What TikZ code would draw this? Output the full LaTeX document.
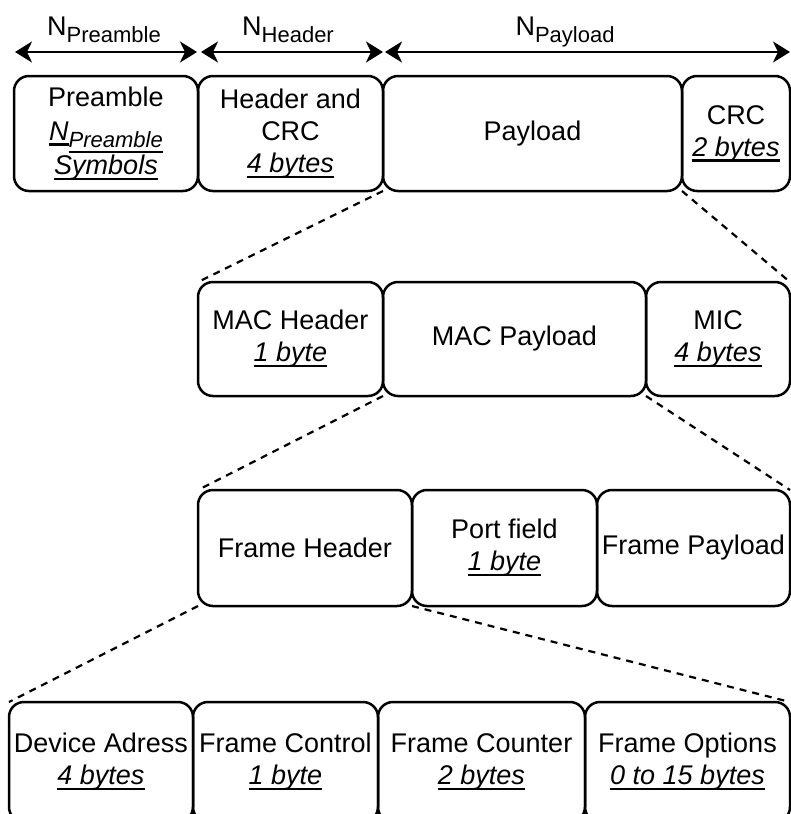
\documentclass[tikz,border=0pt]{standalone}
\usepackage{fontspec}
\setmainfont{Liberation Sans}
\usetikzlibrary{arrows.meta}
\newcommand\uln[1]{\setbox0\hbox{#1}\rlap{\rule[-5.5pt]{\wd0}{2.4pt}}\box0}
\newcommand\subtxt[1]{\raisebox{-7.5pt}{\fontsize{22}{26}\selectfont #1}}
\begin{document}
\begin{tikzpicture}[x=1pt,y=-1pt,
  fld/.style={draw, line width=2.5pt, rounded corners=15pt, align=center, inner sep=0pt, outer sep=0pt, font=\fontsize{27}{32}\selectfont},
  zoomline/.style={line width=2.2pt, dash pattern=on 7pt off 6pt},
  sizearrow/.style={line width=2.5pt, {Stealth[length=17pt,width=21pt,inset=5pt]}-{Stealth[length=17pt,width=21pt,inset=5pt]}},
  lbl/.style={anchor=base, inner sep=0pt, font=\fontsize{27}{32}\selectfont}]
\useasboundingbox (0,0) rectangle (791,814);
% row 1
\node[fld, minimum width=184pt, minimum height=115pt] (pre) at (106,133.5)
  {Preamble\\[2pt] \uln{\textit{N}}\subtxt{\uln{\textit{Preamble}}}\\[1pt] \uln{\textit{Symbols}}};
\node[fld, minimum width=185pt, minimum height=115pt] (hdr) at (290.5,133.5)
  {Header and\\ CRC\\ \uln{\textit{4 bytes}}};
\node[fld, minimum width=299pt, minimum height=115pt] (pay) at (532.5,133.5) {Payload};
\node[fld, minimum width=108pt, minimum height=115pt] (crc) at (736,133.5)
  {CRC\\ \uln{\textit{2 bytes}}};
% row 2
\node[fld, minimum width=185pt, minimum height=114pt] (mach) at (290.5,339)
  {MAC Header\\ \uln{\textit{1 byte}}};
\node[fld, minimum width=263pt, minimum height=114pt] (macp) at (514.5,339) {MAC Payload};
\node[fld, minimum width=144pt, minimum height=114pt] (mic) at (718,339)
  {MIC\\ \uln{\textit{4 bytes}}};
% row 3
\node[fld, minimum width=214pt, minimum height=116pt] (fh) at (305,548) {Frame Header};
\node[fld, minimum width=185pt, minimum height=116pt] (port) at (504.5,548)
  {Port field\\ \uln{\textit{1 byte}}};
\node[fld, minimum width=193pt, minimum height=116pt] (fp) at (693.5,548) {Frame Payload};
% row 4
\node[fld, minimum width=184pt, minimum height=120pt] (dev) at (101,762)
  {Device Adress\\ \uln{\textit{4 bytes}}};
\node[fld, minimum width=185pt, minimum height=120pt] (fc) at (285.5,762)
  {Frame Control\\ \uln{\textit{1 byte}}};
\node[fld, minimum width=207pt, minimum height=120pt] (fcnt) at (481.5,762)
  {Frame Counter\\ \uln{\textit{2 bytes}}};
\node[fld, minimum width=205pt, minimum height=120pt] (fo) at (687.5,762)
  {Frame Options\\ \uln{\textit{0 to 15 bytes}}};
% size arrows
\draw[sizearrow] ([xshift=1pt,yshift=24pt]pre.north west) -- ([xshift=-1pt,yshift=24pt]pre.north east);
\draw[sizearrow] ([xshift=3pt,yshift=24pt]hdr.north west) -- ([yshift=24pt]hdr.north east);
\draw[sizearrow] ([xshift=2pt,yshift=24pt]pay.north west) -- ([yshift=24pt]crc.north east);
\node[lbl] (lpre) at (104,35) {N\subtxt{Preamble}};
\node[lbl] (lhdr) at (288,35) {N\subtxt{Header}};
\node[lbl] (lpay) at (565,35) {N\subtxt{Payload}};
% zoom lines
\draw[zoomline] (pay.south west) -- (mach.north west);
\draw[zoomline] (crc.south west) -- (mic.north east);
\draw[zoomline] (macp.south west) -- (fh.north west);
\draw[zoomline] (macp.south east) -- (fp.north east);
\draw[zoomline] (fh.south west) -- (dev.north west);
\draw[zoomline] (fh.south east) -- (fo.north east);
\end{tikzpicture}
\end{document}
